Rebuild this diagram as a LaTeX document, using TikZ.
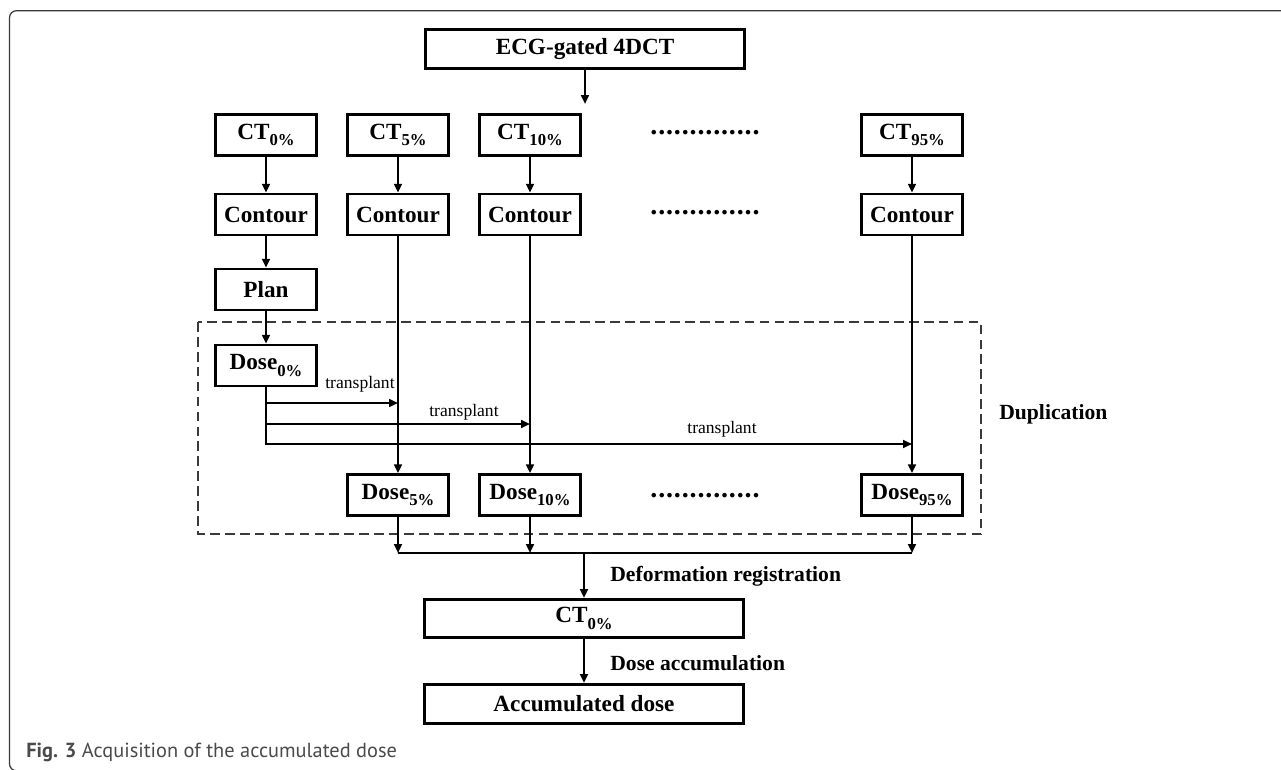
\documentclass[tikz,border=0pt]{standalone}
\usepackage{fontspec}
\setmainfont{Liberation Serif}
\newfontfamily\capfont{PT Sans}
\usetikzlibrary{arrows.meta}
\definecolor{frameGray}{HTML}{3A3A3A}
\definecolor{capGray}{HTML}{4A4A4A}
\newcommand{\lowsub}[1]{\raisebox{-0.6ex}{\fontsize{9.5}{9.5}\selectfont #1}}
\newcommand{\dotrow}{\makebox[2.2cm]{\xleaders\hbox to 0.157cm{\hss.\hss}\hfill}}

\tikzset{
  box/.style={draw, line width=1.5pt, minimum width=2.03cm, minimum height=0.82cm,
    inner sep=0pt, font=\fontsize{13.2}{15}\selectfont\bfseries},
  widebox/.style={box, minimum width=6.39cm, minimum height=0.79cm},
  arr/.style={line width=1.2pt, -{Triangle[length=5pt,width=4.4pt]}},
  link/.style={line width=1.2pt},
  lbl/.style={font=\fontsize{12.3}{14}\selectfont\bfseries, inner sep=0pt},
  tlbl/.style={font=\fontsize{10}{12}\selectfont, inner sep=0pt},
  dotsbox/.style={inner sep=0pt, font=\fontsize{16}{18}\selectfont\bfseries},
  dashbox/.style={draw=frameGray, line width=0.7pt, dash pattern=on 5.5pt off 3pt}
}

\begin{document}
\begin{tikzpicture}[x=0.02cm, y=-0.02cm]
  \useasboundingbox (0,0) rectangle (1281,770);

  % Outer frame, open on the right
  \draw[frameGray, line width=0.7pt, rounded corners=4pt]
    (60,770.8) -- (9.5,770.8) -- (9.5,10.7) -- (1290,10.7);

  % Input series
  \node[widebox] (ecg) at (585,49) {ECG-gated 4DCT};
  \coordinate (ecgend) at (585,104);
  \draw[arr] (ecg) -- (ecgend);

  % Phase images
  \node[box] (ct0) at (266,135) {CT\lowsub{0\%}};
  \node[box] (ct5) at (398,135) {CT\lowsub{5\%}};
  \node[box] (ct10) at (530,135) {CT\lowsub{10\%}};
  \node[dotsbox] (dots1) at (705,133) {\dotrow};
  \node[box] (ct95) at (912,135) {CT\lowsub{95\%}};

  % Contours
  \node[box] (con0) at (266,214.5) {Contour};
  \node[box] (con5) at (398,214.5) {Contour};
  \node[box] (con10) at (530,214.5) {Contour};
  \node[dotsbox] (dots2) at (705,213) {\dotrow};
  \node[box] (con95) at (912,214.5) {Contour};

  \foreach \c in {0,5,10,95}{
    \draw[arr] (ct\c) -- (con\c);
  }

  % Planning on the reference phase
  \node[box] (plan) at (266,289.5) {Plan};
  \node[box] (dose0) at (266,365.5) {Dose\lowsub{0\%}};
  \draw[arr] (con0) -- (plan);
  \draw[arr] (plan) -- (dose0);

  % Duplicated doses
  \draw[dashbox] (198,322) rectangle (981,534);
  \node[box] (dose5) at (398,495) {Dose\lowsub{5\%}};
  \node[box] (dose10) at (530,495) {Dose\lowsub{10\%}};
  \node[dotsbox] (dots3) at (705,496) {\dotrow};
  \node[box] (dose95) at (912,495) {Dose\lowsub{95\%}};
  \node[lbl, anchor=west] (dup) at (999,414) {Duplication};

  \foreach \c in {5,10,95}{
    \draw[arr] (con\c) -- (dose\c);
  }

  % Transplant branches
  \coordinate (tr1) at (0,403);
  \coordinate (tr2) at (0,424);
  \coordinate (tr3) at (0,444);
  \draw[arr] (dose0.south) |- (con95 |- tr3);
  \draw[arr] (dose0 |- tr1) -- (con5 |- tr1);
  \draw[arr] (dose0 |- tr2) -- (con10 |- tr2);
  \node[tlbl] (tp1) at (360,384) {transplant};
  \node[tlbl] (tp2) at (464,412) {transplant};
  \node[tlbl] (tp3) at (722,429) {transplant};

  % Registration and accumulation
  \coordinate (col) at (0,553);
  \foreach \c in {5,10,95}{
    \draw[arr] (dose\c) -- (dose\c |- col);
  }
  \draw[link] (dose5 |- col) -- (dose95 |- col);
  \node[widebox, minimum height=0.77cm] (ctref) at (584,618.5) {CT\lowsub{0\%}};
  \node[widebox] (accum) at (584,704) {Accumulated dose};
  \draw[arr] (ctref |- col) -- (ctref);
  \draw[arr] (ctref) -- (accum);
  \node[lbl, anchor=west] (defreg) at (610,576) {Deformation registration};
  \node[lbl, anchor=west] (doseacc) at (610,663) {Dose accumulation};

  % Caption
  \node[anchor=west, inner sep=0pt, text=capGray,
    font=\capfont\fontsize{11.6}{13}\selectfont] (cap) at (26,752)
    {\textbf{Fig. 3} Acquisition of the accumulated dose};
\end{tikzpicture}
\end{document}
